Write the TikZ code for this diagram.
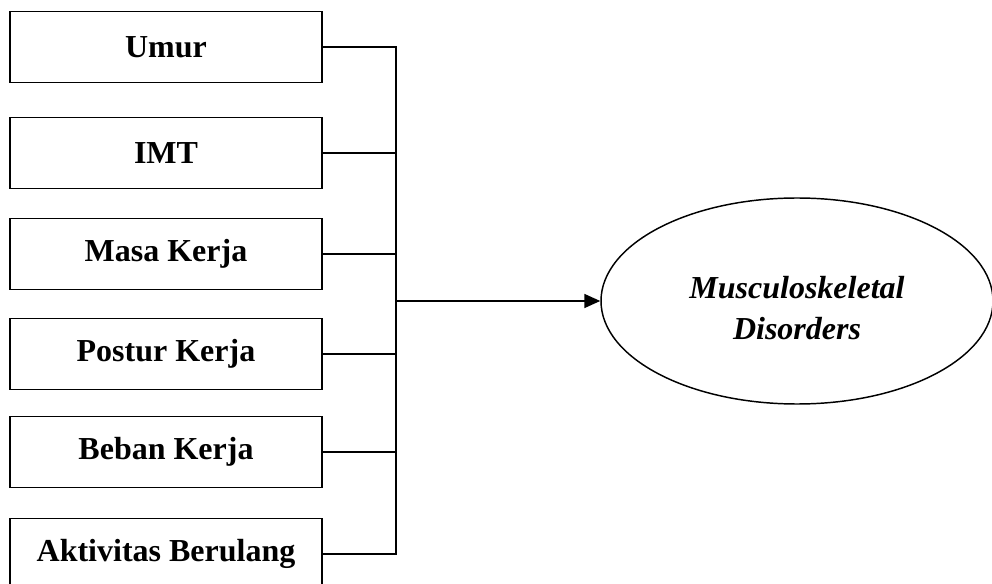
\documentclass[tikz,border=0pt]{standalone}
\usepackage{fontspec}
\setmainfont{Liberation Serif}
\usetikzlibrary{arrows.meta,shapes.geometric}

\begin{document}
\begin{tikzpicture}[x=0.75pt,y=-0.75pt,>={Triangle[length=12pt,width=10.5pt]},
  factor/.style={draw,line width=1.4pt,minimum width=234pt,minimum height=53.25pt,
    inner sep=0pt,font=\fontsize{24}{28}\selectfont\bfseries},
  link/.style={line width=1.2pt}]
  \useasboundingbox (0,0) rectangle (992,584);
  \node[factor] (umur) at (166,47) {Umur};
  \node[factor] (imt) at (166,153) {IMT};
  \node[factor] (masa) at (166,254) {Masa Kerja};
  \node[factor] (postur) at (166,354) {Postur Kerja};
  \node[factor] (beban) at (166,452) {Beban Kerja};
  \node[factor] (aktiv) at (166,554) {Aktivitas Berulang};
  \node[draw,ellipse,line width=1.1pt,minimum width=294pt,minimum height=154.5pt,
    inner sep=0pt,align=center,text height=58.5pt,text depth=0pt,
    font=\fontsize{24}{31.5}\selectfont\bfseries\itshape]
    (msd) at (797,301) {Musculoskeletal\\Disorders};
  \coordinate (bus) at (396,301);
  \draw[link] (umur.east) -- (umur.east -| bus) -- (aktiv.east -| bus) -- (aktiv.east);
  \foreach \n in {imt,masa,postur,beban}
    \draw[link] (\n.east) -- (\n.east -| bus);
  \draw[link,->] (bus) -- (msd.west);
\end{tikzpicture}
\end{document}
